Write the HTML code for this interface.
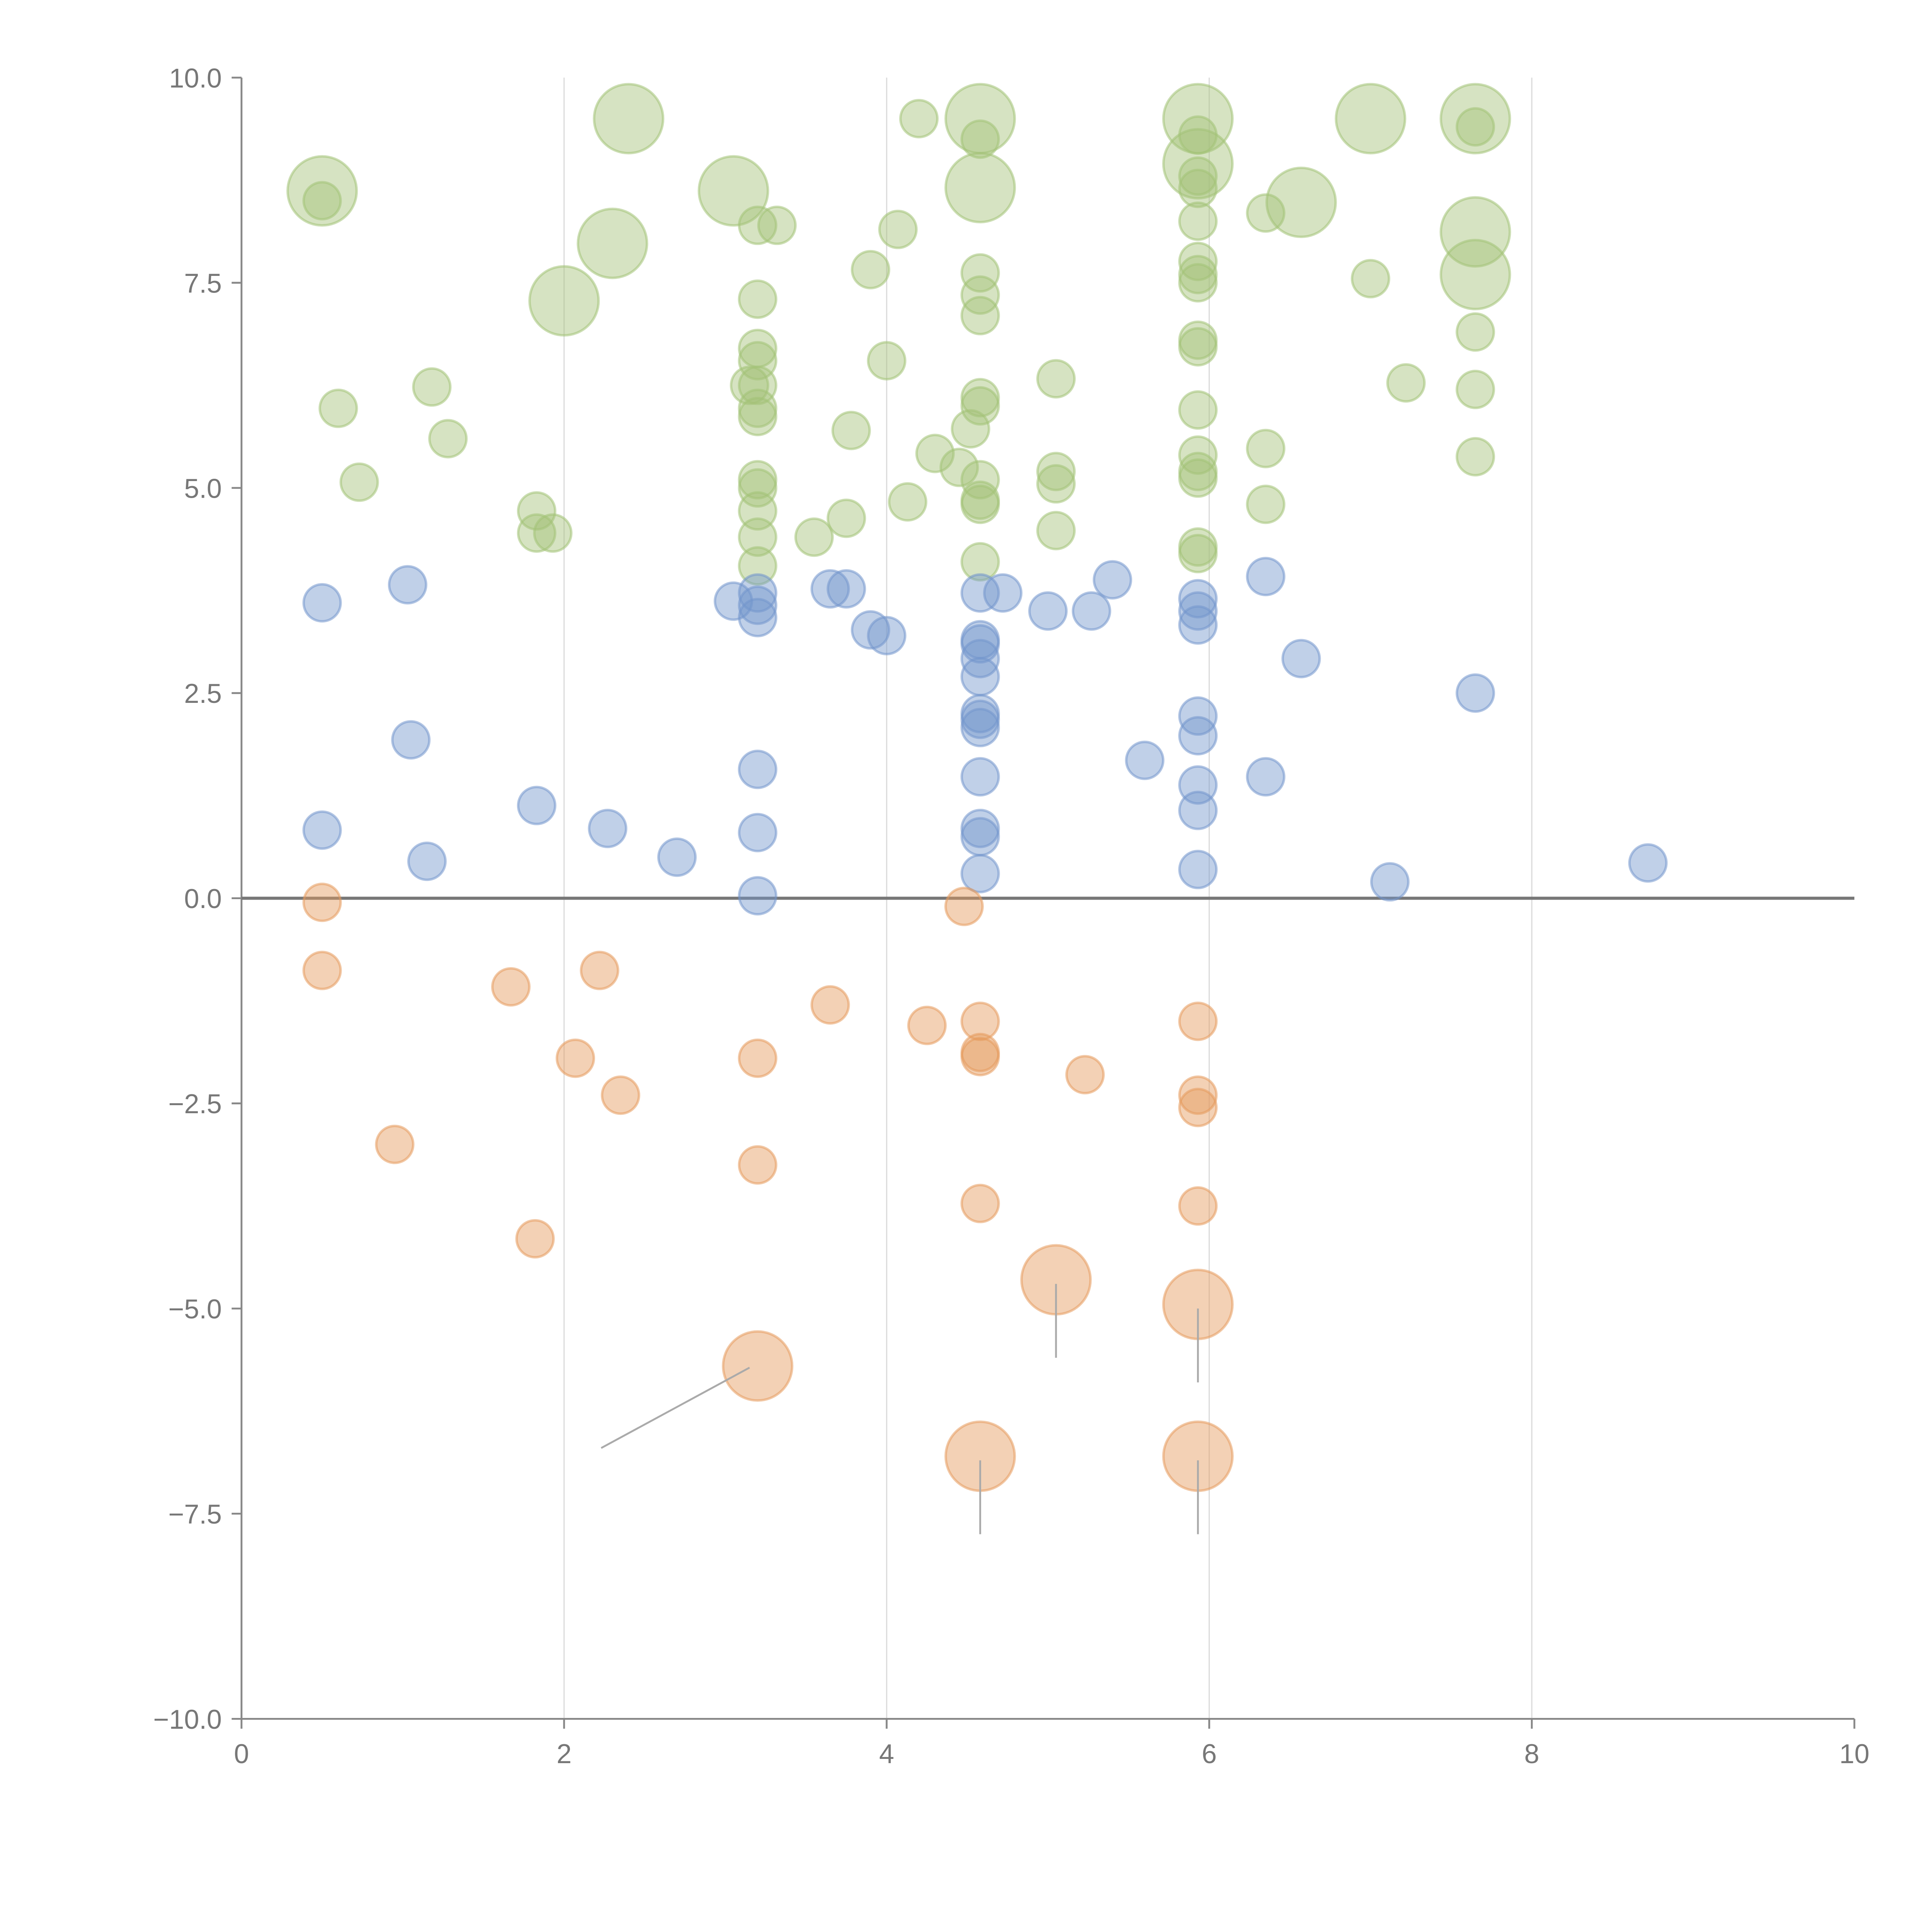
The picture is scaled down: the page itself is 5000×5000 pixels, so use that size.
<!DOCTYPE html>
<html><head><meta charset="utf-8"><style>html,body{margin:0;padding:0;background:#fff}svg{display:block}</style></head>
<body>
<svg id="chart" width="5000" height="5000" viewBox="0 0 1568 1568" xmlns="http://www.w3.org/2000/svg" font-family="Liberation Sans, sans-serif">
<g id="grid"></g>
<g id="axes"></g>
<g id="leaders"></g>
<g id="marks"></g>
</svg>
<script>
const xValues=[0.5,0.5,2.4,3.05,2.3,2.0,4.58,4.58,4.2,4.58,5.93,5.93,7.0,7.65,7.65,7.65,7.65,6.57,6.35,3.2,3.32,4.07,3.9,4.58,4.58,4.58,3.2,5.93,5.93,5.93,5.93,5.93,5.93,5.93,7.0,7.65,0.6,1.18,1.28,0.73,1.83,1.83,1.93,3.2,3.2,3.15,3.2,3.2,3.2,3.2,3.2,3.2,3.2,3.2,3.55,3.78,3.75,4.0,4.13,4.3,4.45,4.52,4.58,4.58,4.58,4.58,4.58,4.58,5.05,5.05,5.05,5.05,5.93,5.93,5.93,5.93,5.93,5.93,5.93,5.93,6.35,6.35,7.22,7.65,7.65,
0.5,1.03,0.5,1.05,1.15,1.83,2.27,2.7,3.05,3.2,3.2,3.2,3.2,3.2,3.2,3.65,3.75,3.9,4.0,4.58,4.72,4.58,4.58,4.58,4.58,4.58,4.58,4.58,4.58,4.58,4.58,4.58,5.0,5.27,5.4,5.6,5.93,5.93,5.93,5.93,5.93,5.93,5.93,5.93,6.35,6.35,6.57,7.12,7.65,8.72,
0.5,0.5,0.95,1.67,1.82,2.07,2.22,2.35,3.2,3.2,3.65,4.25,4.48,4.58,4.58,4.58,4.58,5.23,5.93,5.93,5.93,5.93,5.05,5.93,3.2,4.58,5.93];
const yValues=[8.62,8.5,9.5,8.62,7.98,7.28,9.5,8.66,9.5,9.25,9.5,8.95,9.5,9.5,9.4,8.12,7.6,8.48,8.35,8.2,8.2,8.15,7.66,7.62,7.35,7.1,7.3,9.3,8.8,8.65,8.25,7.76,7.6,7.5,7.55,6.9,5.97,6.23,5.6,5.07,4.72,4.45,4.45,6.7,6.55,6.25,6.25,5.97,5.87,5.1,5.0,4.72,4.4,4.05,4.4,5.7,4.63,6.55,4.83,5.42,5.25,5.72,6.1,6.0,5.1,4.85,4.8,4.1,6.33,5.2,5.05,4.48,6.8,6.72,5.95,5.4,5.2,5.12,4.28,4.2,5.48,4.8,6.28,6.2,5.38,
3.6,3.82,0.83,1.93,0.45,1.13,0.85,0.5,3.62,3.72,3.57,3.42,1.57,0.8,0.03,3.77,3.77,3.27,3.2,3.72,3.72,3.15,3.1,2.92,2.7,2.25,2.18,2.08,1.48,0.85,0.75,0.3,3.5,3.5,3.88,1.68,3.65,3.5,3.33,2.22,1.98,1.38,1.07,0.35,3.92,1.48,2.92,0.2,2.5,0.43,
-0.05,-0.88,-3.0,-1.08,-4.15,-1.95,-0.88,-2.4,-1.95,-3.25,-1.3,-1.55,-0.1,-1.5,-1.88,-1.93,-3.72,-2.15,-1.5,-2.4,-2.55,-3.75,-4.65,-4.95,-5.7,-6.8,-6.8];
const sizes=[2,1,2,2,2,2,2,2,1,1,2,2,2,2,1,2,2,2,1,1,1,1,1,1,1,1,1,1,1,1,1,1,1,1,1,1,1,1,1,1,1,1,1,1,1,1,1,1,1,1,1,1,1,1,1,1,1,1,1,1,1,1,1,1,1,1,1,1,1,1,1,1,1,1,1,1,1,1,1,1,1,1,1,1,1,
1,1,1,1,1,1,1,1,1,1,1,1,1,1,1,1,1,1,1,1,1,1,1,1,1,1,1,1,1,1,1,1,1,1,1,1,1,1,1,1,1,1,1,1,1,1,1,1,1,1,
1,1,1,1,1,1,1,1,1,1,1,1,1,1,1,1,1,1,1,1,1,1,2,2,2,2,2];
const groups=[];
for(let i=0;i<85;i++)groups.push('g');for(let i=0;i<50;i++)groups.push('b');for(let i=0;i<27;i++)groups.push('o');
const leaderFromX=[3.15,5.05,5.93,4.58,5.93],leaderFromY=[-5.72,-4.7,-5.0,-6.85,-6.85];
const leaderToX=[2.23,5.05,5.93,4.58,5.93],leaderToY=[-6.7,-5.6,-5.9,-7.75,-7.75];
const xTicks=[0,2,4,6,8,10];
const yTicks=[-10,-7.5,-5,-2.5,0,2.5,5,7.5,10];

const NS='http://www.w3.org/2000/svg';
const X0=196,X1=1505,Y0=1395,Y1=63;
const sx=v=>X0+(v-0)/(10-0)*(X1-X0);
const sy=v=>Y0-(v+10)/20*(Y0-Y1);
function mk(tag,parent,attrs){const e=document.createElementNS(NS,tag);for(const k in attrs)e.setAttribute(k,attrs[k]);parent.appendChild(e);return e;}
const grid=document.getElementById('grid'),axes=document.getElementById('axes'),leaders=document.getElementById('leaders'),marks=document.getElementById('marks');
[2,4,6,8].forEach(v=>{const l=mk('line',grid,{x1:sx(v),x2:sx(v),y1:Y1,y2:Y0,stroke:'#dcdcdc','stroke-width':1});

});
const ya=mk('line',axes,{x1:X0,x2:X0,y1:Y1,y2:Y0,stroke:'#888','stroke-width':1.5});


const xa=mk('line',axes,{x1:X0,x2:X1,y1:Y0,y2:Y0,stroke:'#888','stroke-width':1.5});


yTicks.forEach(v=>{mk('line',axes,{x1:X0-8,x2:X0,y1:sy(v),y2:sy(v),stroke:'#888','stroke-width':1.5});
const t=mk('text',axes,{x:X0-16,y:sy(v)+8,'text-anchor':'end','font-size':22,fill:'#777'});
t.textContent=(v<0?'\u2212':'')+Math.abs(v).toFixed(1);

});
xTicks.forEach(v=>{mk('line',axes,{x1:sx(v),x2:sx(v),y1:Y0,y2:Y0+8,stroke:'#888','stroke-width':1.5});
const t=mk('text',axes,{x:sx(v),y:Y0+36,'text-anchor':'middle','font-size':22,fill:'#777'});
t.textContent=String(v);

});
const colors={g:'#a3c277',b:'#7396cc',o:'#e59a5c'};
xValues.forEach((xv,i)=>{const c=colors[groups[i]];
const e=mk('circle',marks,{cx:sx(xv),cy:sy(yValues[i]),r:sizes[i]===2?28:15,fill:c,'fill-opacity':0.45,stroke:c,'stroke-opacity':0.55,'stroke-width':2});

});
const zl=mk('line',axes,{x1:X0,x2:X1,y1:sy(0),y2:sy(0),stroke:'#777','stroke-width':2.5});


leaderFromX.forEach((v,i)=>{const l=mk('line',leaders,{x1:sx(v),y1:sy(leaderFromY[i]),x2:sx(leaderToX[i]),y2:sy(leaderToY[i]),stroke:'#aaa','stroke-width':1.5});

});
marks.parentNode.appendChild(leaders);
</script>
</body></html>
